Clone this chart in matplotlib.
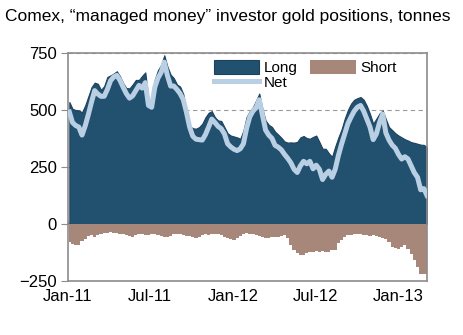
import pandas as pd
import matplotlib
matplotlib.use("Agg")
import matplotlib.pyplot as plt
import matplotlib.dates as mdates

plt.rcParams['font.family'] = ['Liberation Sans', 'DejaVu Sans']

# Weekly CFTC "managed money" gold positions, tonnes
dates = pd.date_range("2011-01-04", periods=114, freq="7D")

long_pos = [
    535, 505, 500, 498, 490, 520, 560, 600, 620, 615,
    588, 605, 645, 652, 660, 670, 648, 618, 596, 595,
    612, 632, 632, 650, 665, 545, 530, 635, 675, 698,
    740, 690, 655, 640, 612, 603, 570, 490, 430, 420,
    418, 425, 440, 468, 488, 495, 468, 454, 452, 425,
    398, 388, 384, 380, 374, 410, 470, 495, 512, 542,
    572, 505, 454, 435, 426, 405, 392, 378, 362, 357,
    358, 357, 360, 380, 386, 377, 374, 382, 388, 360,
    330, 330, 310, 295, 340, 380, 415, 462, 500, 528,
    545, 552, 557, 545, 518, 482, 440, 462, 485, 497,
    460, 425, 412, 398, 388, 380, 372, 366, 359, 356,
    352, 348, 347, 337,
]

net_pos = [
    491, 445, 432, 425, 390, 430, 480, 535, 585, 570,
    560, 560, 590, 628, 645, 652, 630, 600, 572, 552,
    562, 585, 608, 596, 620, 520, 512, 600, 640, 665,
    710, 650, 605, 605, 590, 572, 545, 490, 425, 385,
    372, 370, 368, 392, 425, 460, 445, 428, 418, 395,
    352, 338, 328, 322, 330, 352, 420, 470, 495, 510,
    545, 478, 412, 390, 376, 345, 337, 325, 305, 288,
    268, 240, 226, 255, 275, 264, 275, 242, 258, 240,
    195, 218, 232, 205, 240, 300, 350, 395, 440, 469,
    495, 512, 520, 495, 460, 425, 370, 395, 445, 482,
    400, 368, 346, 332, 305, 285, 295, 285, 255, 225,
    205, 150, 155, 125,
]

short_pos = [
    -79, -88, -94, -90, -75, -65, -52, -50, -55, -50,
    -45, -40, -38, -36, -38, -40, -42, -46, -50, -53,
    -55, -50, -46, -46, -47, -50, -46, -44, -47, -52,
    -55, -58, -52, -45, -42, -45, -50, -52, -54, -58,
    -60, -56, -50, -45, -48, -44, -42, -45, -50, -55,
    -60, -66, -68, -60, -52, -45, -40, -42, -46, -48,
    -52, -56, -60, -62, -58, -55, -58, -54, -50, -62,
    -90, -112, -128, -134, -138, -126, -122, -124, -120, -122,
    -118, -124, -122, -116, -112, -85, -70, -58, -50, -48,
    -44, -42, -46, -48, -50, -52, -50, -54, -58, -62,
    -64, -80, -100, -104, -108, -100, -94, -110, -130, -160,
    -190, -219, -219, -219,
]

yticks = [-250, 0, 250, 500, 750]

fig = plt.figure(figsize=(4.64, 3.35), dpi=100)
ax = fig.add_axes([68 / 464, 54 / 335, 359 / 464, 228 / 335])

ax.fill_between(dates, 0, long_pos, color="#22506f", edgecolor="#1c4260",
                linewidth=0.8, label="Long", zorder=2)
ax.fill_between(dates, 0, short_pos, step="mid", color="#a8877b",
                linewidth=0, label="Short", zorder=2)
ax.plot(dates, net_pos, color="#b9cfe4", linewidth=3.6, label="Net",
        solid_joinstyle="round", zorder=3)

ax.set_ylim(-250, 750)
ax.set_yticks(yticks)
ax.set_xlim(pd.Timestamp("2011-01-01"), pd.Timestamp("2013-03-05"))
ax.xaxis.set_major_locator(mdates.MonthLocator(bymonth=[1, 7]))
ax.xaxis.set_major_formatter(mdates.DateFormatter("%b-%y"))

ax.grid(axis="y", color="#9a9a9a", linestyle=(0, (4, 3)), linewidth=0.8, zorder=1)
for s in ax.spines.values():
    s.set_color("#8c8c8c")
    s.set_linewidth(1.2)

ax.tick_params(axis="y", length=5, color="#8c8c8c", labelsize=12, pad=3)
ax.tick_params(axis="x", length=0, labelsize=12, pad=6)

# zero line with small inward ticks
zero_ax = ax.secondary_xaxis(0.25)
zero_ax.xaxis.set_major_locator(mdates.MonthLocator(bymonth=[1, 7]))
zero_ax.tick_params(axis="x", direction="in", length=3, color="#8c8c8c",
                    labelbottom=False, labeltop=False)
zero_ax.spines["bottom"].set_color("#8c8c8c")
zero_ax.spines["bottom"].set_linewidth(1.2)

handles, labels = ax.get_legend_handles_labels()
order = [labels.index("Long"), labels.index("Net"), labels.index("Short")]
ax.legend([handles[i] for i in order], [labels[i] for i in order],
          ncol=2, loc="upper left", bbox_to_anchor=(0.38, 1.01),
          frameon=False, fontsize=11, handlelength=3.0, handleheight=1.0,
          handletextpad=0.3, columnspacing=0.8, labelspacing=0.0,
          borderaxespad=0.2)

fig.text(5 / 464, 1 - 16 / 335, "Comex, \u201cmanaged money\u201d investor gold positions, tonnes",
         fontsize=12.5, va="center", ha="left")

fig.savefig("out.png", dpi=100)
